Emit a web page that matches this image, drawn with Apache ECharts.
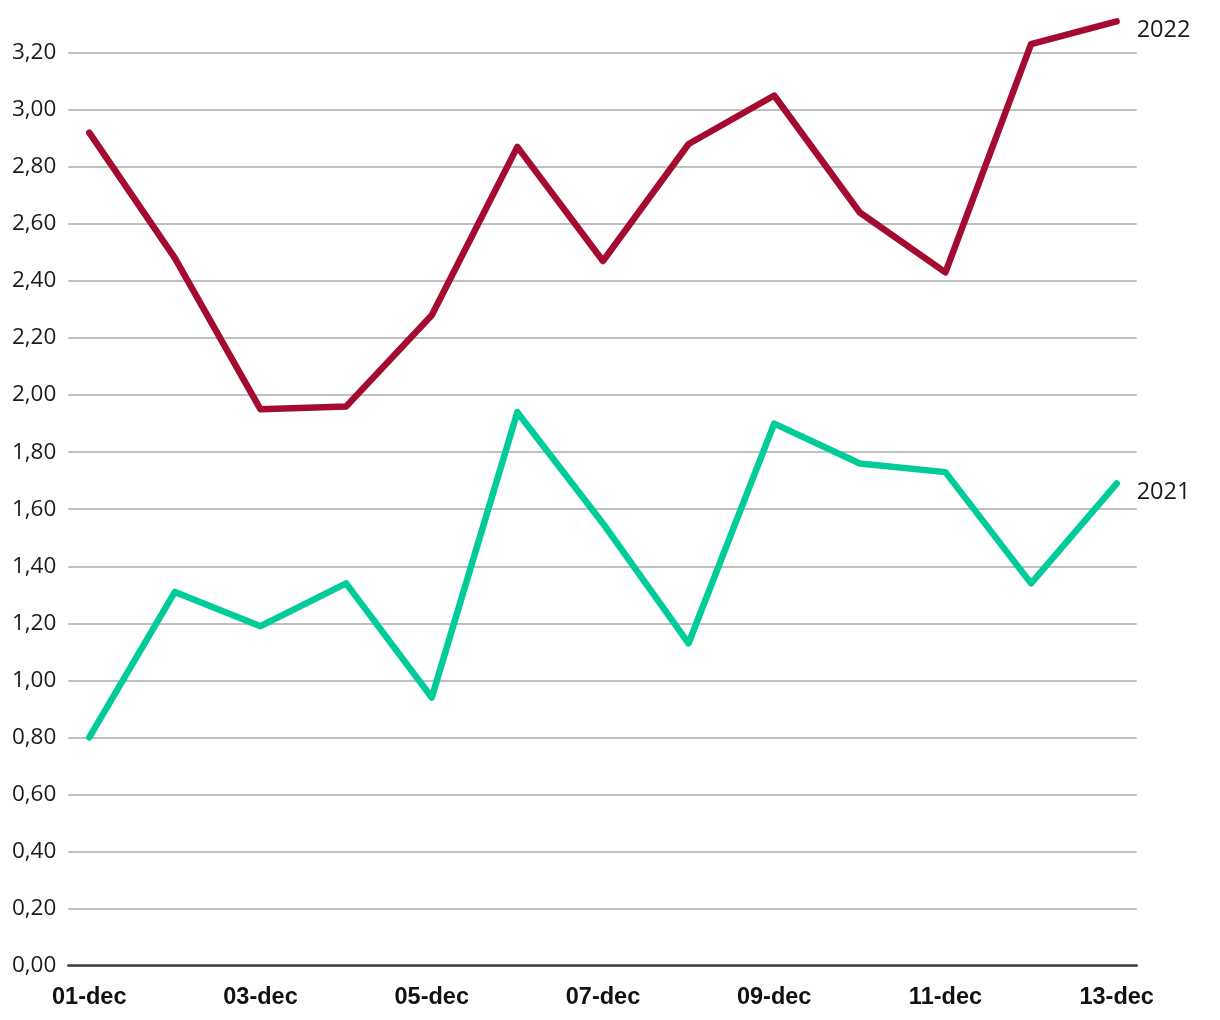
<!DOCTYPE html>
<html>
<head>
<meta charset="utf-8">
<script src="https://cdn.jsdelivr.net/npm/echarts@6/dist/echarts.min.js"></script>
<style>html,body{margin:0;padding:0;background:#fff}#c{width:1220px;height:1020px}</style>
</head>
<body>
<div id="c"></div>
<script>
const categories = ['01-dec','02-dec','03-dec','04-dec','05-dec','06-dec','07-dec','08-dec','09-dec','10-dec','11-dec','12-dec','13-dec'];
const values2022 = [2.92, 2.48, 1.95, 1.96, 2.28, 2.87, 2.47, 2.88, 3.05, 2.64, 2.43, 3.23, 3.31];
const values2021 = [0.80, 1.31, 1.19, 1.34, 0.94, 1.94, 1.55, 1.13, 1.90, 1.76, 1.73, 1.34, 1.69];
const xLabelIndices = [0, 2, 4, 6, 8, 10, 12];
const yTicks = [0,0.2,0.4,0.6,0.8,1.0,1.2,1.4,1.6,1.8,2.0,2.2,2.4,2.6,2.8,3.0,3.2];

const chart = echarts.init(document.getElementById('c'), null, {renderer: 'canvas'});
function pts(arr){ return arr.map((v,i)=>[i,v]); }
const endLbl = {
  show: true,
  formatter: p => p.seriesName,
  color: '#1a1a1a',
  fontFamily: 'Open Sans',
  fontSize: 23.5,
  offset: [12, 9]
};
chart.setOption({
  animation: false,
  grid: {left: 68.3, right: 83.3, top: 52.7, bottom: 54.3, containLabel: false},
  xAxis: {
    type: 'value',
    min: -0.245,
    max: 12.234,
    axisLine: {show: true, onZero: false, lineStyle: {color: '#404040', width: 2.5}},
    axisTick: {show: false},
    splitLine: {show: false},
    axisLabel: {
      customValues: xLabelIndices,
      formatter: v => categories[Math.round(v)],
      fontFamily: 'Liberation Sans',
      fontWeight: 'bold',
      fontSize: 23.5,
      color: '#111',
      margin: 20
    }
  },
  yAxis: {
    type: 'value',
    min: 0,
    max: 3.2,
    interval: 0.2,
    axisLine: {show: false},
    axisTick: {show: false},
    splitLine: {lineStyle: {color: '#bfbfbf', width: 2}},
    axisLabel: {
      formatter: v => v.toFixed(2).replace('.', ','),
      fontFamily: 'Open Sans',
      fontSize: 22.5,
      color: '#1a1a1a',
      margin: 12
    }
  },
  series: [
    {
      name: '2022', type: 'line', data: pts(values2022), clip: false,
      symbol: 'none',
      lineStyle: {color: '#A50B30', width: 6.5, cap: 'round', join: 'round'},
      itemStyle: {color: '#A50B30'},
      endLabel: endLbl
    },
    {
      name: '2021', type: 'line', data: pts(values2021), clip: false,
      symbol: 'none',
      lineStyle: {color: '#00CC99', width: 6.5, cap: 'round', join: 'round'},
      itemStyle: {color: '#00CC99'},
      endLabel: endLbl
    }
  ]
});
</script>
</body>
</html>
